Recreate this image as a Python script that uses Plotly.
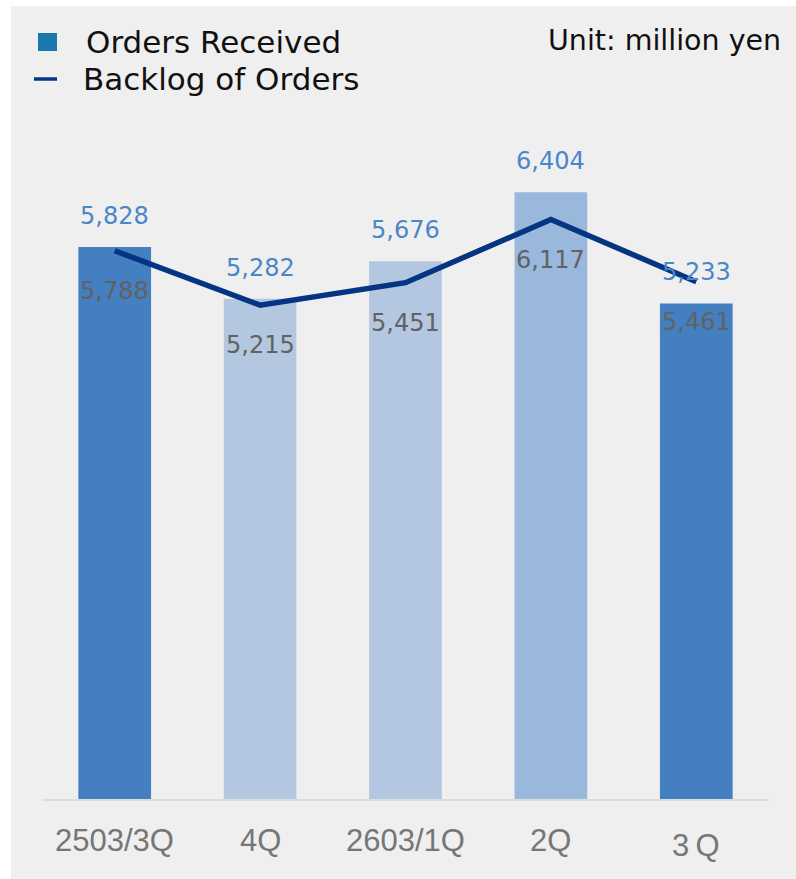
import plotly.graph_objects as go

# Quarterly order data (million yen)
quarters = ["2503/3Q", "4Q", "2603/1Q", "2Q", "3Q"]
tick_labels = ["2503/3Q", "4Q", "2603/1Q", "2Q", "3\u2009Q"]
orders_received = [5828, 5282, 5676, 6404, 5233]
backlog = [5788, 5215, 5451, 6117, 5461]
bar_colors = ["#437fc1", "#b3c7e0", "#b3c7e0", "#9ab8dc", "#437fc1"]

LINE_COLOR = "#043582"
BAR_LABEL_COLOR = "#4a86c8"
LINE_LABEL_COLOR = "#626262"
TICK_COLOR = "#767676"
BG = "#efefef"

W, H = 796, 879
ML, MR, MT, MB = 42, 27, 100, 79
plot_w = W - ML - MR
plot_h = H - MT - MB
px_per_unit = 0.0949
y_max = plot_h / px_per_unit

fig = go.Figure()

fig.add_trace(go.Bar(
    x=quarters, y=orders_received,
    marker=dict(color=bar_colors, line=dict(width=0)),
    width=0.5, name="Orders Received", showlegend=False,
    hoverinfo="x+y",
))

fig.add_trace(go.Scatter(
    x=quarters, y=backlog, mode="lines",
    line=dict(color=LINE_COLOR, width=5.5),
    name="Backlog of Orders", showlegend=False,
))

annotations = []
for q, v in zip(quarters, orders_received):
    annotations.append(dict(
        x=q, y=v, xref="x", yref="y", text=f"{v:,}", showarrow=False,
        yshift=31, font=dict(family="DejaVu Sans", size=24, color=BAR_LABEL_COLOR),
    ))
for q, v in zip(quarters, backlog):
    annotations.append(dict(
        x=q, y=v, xref="x", yref="y", text=f"{v:,}", showarrow=False,
        yshift=-40, font=dict(family="DejaVu Sans", size=24, color=LINE_LABEL_COLOR),
    ))

# Category labels under the axis
for i, (q, t) in enumerate(zip(quarters, tick_labels)):
    annotations.append(dict(
        x=q, y=0, xref="x", yref="y", text=t, showarrow=False,
        yshift=-(45 if i == len(quarters) - 1 else 40),
        font=dict(family="Liberation Sans", size=31, color=TICK_COLOR),
    ))

def px_x(x):
    return (x - ML) / plot_w

def px_y(y):
    return (H - MB - y) / plot_h

# Legend entries
annotations.append(dict(
    x=px_x(84), y=px_y(42), xref="paper", yref="paper", xanchor="left", yanchor="middle",
    text="Orders Received", showarrow=False,
    font=dict(family="DejaVu Sans", size=31, color="#111111"),
))
annotations.append(dict(
    x=px_x(81), y=px_y(79), xref="paper", yref="paper", xanchor="left", yanchor="middle",
    text="Backlog of Orders", showarrow=False,
    font=dict(family="DejaVu Sans", size=31, color="#111111"),
))
annotations.append(dict(
    x=px_x(783), y=px_y(40), xref="paper", yref="paper", xanchor="right", yanchor="middle",
    text="Unit: million yen", showarrow=False,
    font=dict(family="DejaVu Sans", size=28.5, color="#111111"),
))

shapes = [
    # panel background
    dict(type="rect", xref="paper", yref="paper", layer="below",
         x0=px_x(11), x1=px_x(W + 5), y0=px_y(H + 5), y1=px_y(6),
         fillcolor=BG, line=dict(width=0)),
    # legend swatches
    dict(type="rect", xref="paper", yref="paper",
         x0=px_x(38), x1=px_x(57), y0=px_y(51), y1=px_y(33),
         fillcolor="#1b7aad", line=dict(width=0)),
    dict(type="line", xref="paper", yref="paper",
         x0=px_x(34), x1=px_x(57), y0=px_y(79), y1=px_y(79),
         line=dict(color=LINE_COLOR, width=3.5)),
    # baseline
    dict(type="line", xref="paper", yref="paper",
         x0=0, x1=1, y0=0, y1=0, line=dict(color="#dcdcdc", width=2)),
]

fig.update_layout(
    width=W, height=H,
    margin=dict(l=ML, r=MR, t=MT, b=MB),
    paper_bgcolor="white", plot_bgcolor="rgba(0,0,0,0)",
    bargap=0.5,
    xaxis=dict(showticklabels=False, showgrid=False, zeroline=False, showline=False,
               fixedrange=True),
    yaxis=dict(range=[0, y_max], visible=False, showgrid=False, zeroline=False,
               fixedrange=True),
    annotations=annotations,
    shapes=shapes,
    showlegend=False,
)

fig.write_html("out.html")
